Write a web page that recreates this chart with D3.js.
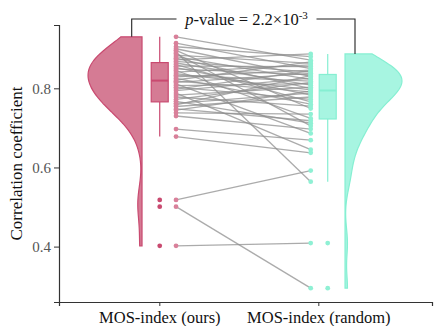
<!DOCTYPE html>
<html>
<head>
<meta charset="utf-8">
<script src="https://cdn.jsdelivr.net/npm/d3@7"></script>
<style>
    body { margin: 0; background: #fff; }
    text { font-family: "Liberation Serif", "Times New Roman", serif; }
</style>
</head>
<body>
<div id="chart"></div>
<script>
// paired correlation coefficients, one entry per test
const categories = ["MOS-index (ours)", "MOS-index (random)"];
const oursValues = [0.930, 0.914, 0.905, 0.900, 0.896, 0.892, 0.888, 0.884, 0.880, 0.876,
    0.872, 0.868, 0.864, 0.860, 0.856, 0.852, 0.849, 0.845, 0.841, 0.837,
    0.833, 0.829, 0.825, 0.821, 0.818, 0.815, 0.811, 0.807, 0.803, 0.798,
    0.794, 0.788, 0.783, 0.778, 0.772, 0.767, 0.762, 0.758, 0.754, 0.748,
    0.745, 0.738, 0.730, 0.697, 0.678, 0.518, 0.501, 0.402];
const randomValues = [0.871, 0.850, 0.880, 0.830, 0.749, 0.564, 0.705, 0.863, 0.822, 0.799,
    0.887, 0.841, 0.808, 0.766, 0.855, 0.783, 0.834, 0.724, 0.859, 0.796,
    0.818, 0.846, 0.760, 0.867, 0.791, 0.838, 0.686, 0.812, 0.772, 0.844,
    0.826, 0.645, 0.803, 0.755, 0.815, 0.712, 0.788, 0.832, 0.778, 0.718,
    0.793, 0.735, 0.697, 0.669, 0.637, 0.592, 0.295, 0.409];
const yTicks = [0.4, 0.6, 0.8];

const W = 436, H = 326;
const margin = {top: 25, right: 4, bottom: 24, left: 59};

const svg = d3.select("#chart").append("svg")
    .attr("width", W)
    .attr("height", H);

// scales
let x = d3.scaleLinear()
    .domain([-0.631, 1.715])
    .range([margin.left, W - margin.right]);

let y = d3.scaleLinear()
    .domain([0.26, 0.96])
    .range([H - margin.bottom, margin.top]);

const groups = [
    {values: oursValues, pos: 0, violinEdge: -17.3, box: 0.4, pts: 16.7, side: -1, maxW: 54, bw: 0.044,
        fill: "#d57b94", stroke: "#c94a70", ptFill: "#d9809a", outFill: "#c94a70"},
    {values: randomValues, pos: 1, violinEdge: 26.7, box: 9.4, pts: -7.6, side: 1, maxW: 57, bw: 0.038,
        fill: "#a7f5e1", stroke: "#86efd2", ptFill: "#8ff0d4", outFill: "#8ff0d4"}
];

function kde(values, bw, lo, hi) {
    let pts = d3.range(0, 121).map(i => lo + (hi - lo) * i / 120);
    return pts.map(v => [v, d3.mean(values, d => Math.exp(-0.5 * ((v - d) / bw) ** 2))]);
}

// violins
groups.forEach(g => {
    let lo = d3.min(g.values), hi = d3.max(g.values);
    let dens = kde(g.values, g.bw, lo, hi);
    let wScale = d3.scaleLinear().domain([0, d3.max(dens, d => d[1])]).range([0, g.maxW]);
    let edge = x(g.pos) + g.violinEdge;
    let area = d3.area()
        .y(d => y(d[0]))
        .x0(edge)
        .x1(d => edge + g.side * wScale(d[1]))
        .curve(d3.curveBasis);
    svg.append("path")
        .datum(dens)
        .attr("d", area)
        .attr("fill", g.fill)
        .attr("stroke", g.stroke)
        .attr("stroke-width", 1.2);
});

// paired lines
const pairs = oursValues.map((v, i) => [v, randomValues[i]]);
svg.append("g").selectAll("line")
    .data(pairs)
    .join("line")
    .attr("x1", x(0) + groups[0].pts)
    .attr("x2", x(1) + groups[1].pts)
    .attr("y1", d => y(d[0]))
    .attr("y2", d => y(d[1]))
    .attr("stroke", "#8f8f8f")
    .attr("stroke-opacity", 0.75)
    .attr("stroke-width", 1.3);

// box plots + points
groups.forEach(g => {
    let s = g.values.slice().sort(d3.ascending);
    let q1 = d3.quantile(s, 0.25), med = d3.quantile(s, 0.5), q3 = d3.quantile(s, 0.75);
    let iqr = q3 - q1;
    let wLo = d3.min(s.filter(d => d >= q1 - 1.5 * iqr));
    let wHi = d3.max(s.filter(d => d <= q3 + 1.5 * iqr));
    let cx = x(g.pos) + g.box;
    let bw = 17;
    let bg = svg.append("g");
    bg.append("line")
        .attr("x1", cx).attr("x2", cx)
        .attr("y1", y(wHi)).attr("y2", y(q3))
        .attr("stroke", g.stroke).attr("stroke-width", 1.2);
    bg.append("line")
        .attr("x1", cx).attr("x2", cx)
        .attr("y1", y(q1)).attr("y2", y(wLo))
        .attr("stroke", g.stroke).attr("stroke-width", 1.2);
    bg.append("rect")
        .attr("x", cx - bw / 2).attr("y", y(q3))
        .attr("width", bw).attr("height", y(q1) - y(q3))
        .attr("fill", g.fill).attr("stroke", g.stroke).attr("stroke-width", 1.2);
    bg.append("line")
        .attr("x1", cx - bw / 2).attr("x2", cx + bw / 2)
        .attr("y1", y(med)).attr("y2", y(med))
        .attr("stroke", g.stroke).attr("stroke-width", 2);
    bg.selectAll("circle")
        .data(s.filter(d => d < wLo || d > wHi))
        .join("circle")
        .attr("cx", cx).attr("cy", d => y(d)).attr("r", 2.4)
        .attr("fill", g.outFill);

    svg.append("g").selectAll("circle")
        .data(g.values)
        .join("circle")
        .attr("cx", x(g.pos) + g.pts)
        .attr("cy", d => y(d))
        .attr("r", 2.4)
        .attr("fill", g.ptFill);
});

// axes
let xAxis = d3.axisBottom(x)
    .tickValues([0, 1])
    .tickFormat(d => categories[d])
    .tickSizeOuter(0)
    .tickSize(4);
let gx = svg.append("g")
    .attr("transform", `translate(0, ${H - margin.bottom})`)
    .call(xAxis);
gx.selectAll("text").attr("font-size", 16.5).attr("fill", "#111").attr("dy", "0.85em")
    .style("font-family", "Liberation Serif");

let yAxis = d3.axisLeft(y)
    .tickValues(yTicks)
    .tickFormat(d3.format(".1f"))
    .tickSizeOuter(0)
    .tickSize(5);
let gy = svg.append("g")
    .attr("transform", `translate(${margin.left}, 0)`)
    .call(yAxis);
gy.selectAll("text").attr("font-size", 15).attr("fill", "#555")
    .style("font-family", "Liberation Serif");

svg.selectAll(".domain").attr("stroke", "#333").attr("stroke-width", 1.2);
svg.selectAll(".tick line").attr("stroke", "#333");

svg.append("text")
    .attr("transform", `translate(22, ${(margin.top + H - margin.bottom) / 2}) rotate(-90)`)
    .attr("text-anchor", "middle")
    .attr("font-size", 17)
    .attr("fill", "#111")
    .text("Correlation coefficient");

// significance bracket
let bx1 = 131.7, bx2 = 355, by = 19;
svg.append("path")
    .attr("d", `M${bx1},${y(d3.max(oursValues))} V${by} H176.5 M316.5,${by} H${bx2} V${y(d3.max(randomValues))}`)
    .attr("fill", "none")
    .attr("stroke", "#222")
    .attr("stroke-width", 1.1);

let title = svg.append("text")
    .attr("x", 246.5)
    .attr("y", 24.5)
    .attr("text-anchor", "middle")
    .attr("font-size", 16.5)
    .attr("fill", "#111");
title.append("tspan").attr("font-style", "italic").text("p");
title.append("tspan").text("-value = 2.2×10");
title.append("tspan").attr("font-size", 11).attr("dy", -6).text("-3");
</script>
</body>
</html>
